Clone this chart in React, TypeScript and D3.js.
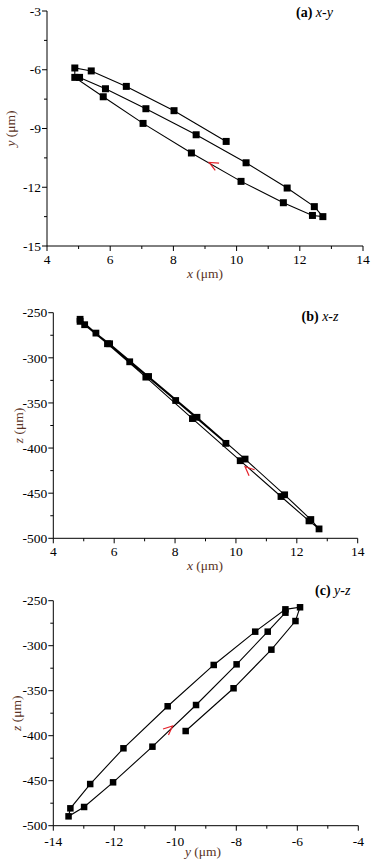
import React from 'react';
import * as d3 from 'd3';

// Trajectory samples in time order (μm)
const xPos = [5.03, 5.85, 7.13, 8.72, 10.30, 11.60, 12.46, 12.73, 12.40, 11.48, 10.14, 8.57, 7.04, 5.78, 4.88, 4.88, 5.40, 6.51, 8.02, 9.67];
const yPos = [-6.39, -6.97, -7.99, -9.32, -10.75, -12.04, -12.99, -13.50, -13.44, -12.79, -11.70, -10.25, -8.74, -7.38, -6.39, -5.91, -6.06, -6.85, -8.09, -9.66];
const zPos = [-263.3, -284.4, -320.7, -365.9, -412.2, -451.8, -479.2, -489.6, -480.7, -453.7, -414.0, -367.3, -321.4, -284.4, -259.6, -257.3, -272.6, -304.4, -347.3, -394.8];

const xTicks = [4, 6, 8, 10, 12, 14];
const xMinor = [5, 7, 9, 11, 13];
const yTicksA = [-3, -6, -9, -12, -15];
const yMinorA = [-4.5, -7.5, -10.5, -13.5];
const zTicks = [-250, -300, -350, -400, -450, -500];
const zMinor = [-275, -325, -375, -425, -475];
const yTicksC = [-14, -12, -10, -8, -6, -4];
const yMinorC = [-13, -11, -9, -7, -5];

// direction arrows: tip position and the point it heads toward
const arrowA = { tip: [9.13, -10.73], to: [8.57, -10.25] };
const arrowB = { tip: [10.30, -420.6], to: [8.57, -367.3] };
const arrowC = { tip: [-10.09, -389.2], to: [-9.32, -365.9] };

const FONT = 'Liberation Serif, Times New Roman, Times, serif';
const LABEL_COLOR = '#5a3325';

type PanelProps = {
  xs: number[]; ys: number[];
  xDomain: [number, number]; yDomain: [number, number];
  xRange: [number, number]; yRange: [number, number];
  xT: number[]; xM: number[]; yT: number[]; yM: number[];
  xName: string; yName: string;
  tag: string; tagRest: string; tagX: number; tagY: number;
  xTickDy: number; xLabelY: number; xLabelX: number;
  yLabelX: number;
  arrow: { tip: number[]; to: number[] };
  sq: number;
};

function Panel(p: PanelProps) {
  const x = d3.scaleLinear().domain(p.xDomain).range(p.xRange);
  const y = d3.scaleLinear().domain(p.yDomain).range(p.yRange);
  const x0 = p.xRange[0], x1 = p.xRange[1];
  const yTop = p.yRange[0], yBot = p.yRange[1];
  const pts = p.xs.map((v, i) => [x(v), y(p.ys[i])] as [number, number]);
  const line = d3.line()(pts) || '';
  const tx = x(p.arrow.tip[0]), ty = y(p.arrow.tip[1]);
  const ang = Math.atan2(y(p.arrow.to[1]) - ty, x(p.arrow.to[0]) - tx) + Math.PI;
  const L = 10, h = 0.42;
  const arrowPath = `M${tx + L * Math.cos(ang - h)},${ty + L * Math.sin(ang - h)}L${tx},${ty}L${tx + L * Math.cos(ang + h)},${ty + L * Math.sin(ang + h)}`;
  const yMid = (yTop + yBot) / 2;
  return (
    <g>
      <path d={`M${x0},${yTop}V${yBot}H${x1}`} fill="none" stroke="#000" strokeWidth={1} />
      {p.xT.map(t => (
        <g key={'xt' + t}>
          <line x1={x(t)} x2={x(t)} y1={yBot} y2={yBot + 5} stroke="#000" />
          <text x={x(t)} y={yBot + p.xTickDy} textAnchor="middle" fontSize={13.5} fontFamily={FONT}>{t}</text>
        </g>
      ))}
      {p.xM.map(t => (
        <line key={'xm' + t} x1={x(t)} x2={x(t)} y1={yBot} y2={yBot + 3} stroke="#000" />
      ))}
      {p.yT.map(t => (
        <g key={'yt' + t}>
          <line x1={x0 - 5} x2={x0} y1={y(t)} y2={y(t)} stroke="#000" />
          <text x={x0 - 6} y={y(t)} dy="0.35em" textAnchor="end" fontSize={13.5} fontFamily={FONT}>{t}</text>
        </g>
      ))}
      {p.yM.map(t => (
        <line key={'ym' + t} x1={x0 - 3} x2={x0} y1={y(t)} y2={y(t)} stroke="#000" />
      ))}
      <text x={p.xLabelX} y={p.xLabelY} textAnchor="middle" fontSize={13.5} fontFamily={FONT} fill={LABEL_COLOR}>
        <tspan fontStyle="italic">{p.xName}</tspan> (μm)
      </text>
      <text transform={`translate(${p.yLabelX},${yMid}) rotate(-90)`} textAnchor="middle" fontSize={13.5} fontFamily={FONT} fill={LABEL_COLOR}>
        <tspan fontStyle="italic">{p.yName}</tspan> (μm)
      </text>
      <text x={p.tagX} y={p.tagY} fontSize={14} fontFamily={FONT}>
        <tspan fontWeight="bold">{p.tag}</tspan>
        <tspan fontStyle="italic">{' ' + p.tagRest}</tspan>
      </text>
      <path d={line} fill="none" stroke="#000" strokeWidth={1.1} />
      {pts.map((q, i) => (
        <rect key={i} x={q[0] - p.sq / 2} y={q[1] - p.sq / 2} width={p.sq} height={p.sq} fill="#000" />
      ))}
      <path d={arrowPath} fill="none" stroke="#e5222b" strokeWidth={1.2} />
    </g>
  );
}

export default function App() {
  return (
    <svg width={376} height={864} style={{ position: 'absolute', left: 0, top: 0, display: 'block', background: '#fff' }}>
      <rect width={376} height={864} fill="#fff" />
      <Panel xs={xPos} ys={yPos} xDomain={[4, 14]} yDomain={[-3, -15]} xRange={[47, 363]} yRange={[11, 246]}
        xT={xTicks} xM={xMinor} yT={yTicksA} yM={yMinorA} xName="x" yName="y"
        tag="(a)" tagRest="x-y" tagX={296} tagY={17}
        xTickDy={17.5} xLabelY={277.5} xLabelX={205} yLabelX={15} arrow={arrowA} sq={7} />
      <Panel xs={xPos} ys={zPos} xDomain={[4, 14]} yDomain={[-250, -500]} xRange={[53.3, 357.7]} yRange={[312.7, 538.3]}
        xT={xTicks} xM={xMinor} yT={zTicks} yM={zMinor} xName="x" yName="z"
        tag="(b)" tagRest="x-z" tagX={301.5} tagY={321}
        xTickDy={17.7} xLabelY={570} xLabelX={205} yLabelX={23} arrow={arrowB} sq={6.8} />
      <Panel xs={yPos} ys={zPos} xDomain={[-14, -4]} yDomain={[-250, -500]} xRange={[53.3, 358.3]} yRange={[600.7, 825.7]}
        xT={yTicksC} xM={yMinorC} yT={zTicks} yM={zMinor} xName="y" yName="z"
        tag="(c)" tagRest="y-z" tagX={315} tagY={595}
        xTickDy={20} xLabelY={856} xLabelX={203} yLabelX={21} arrow={arrowC} sq={6.5} />
    </svg>
  );
}
